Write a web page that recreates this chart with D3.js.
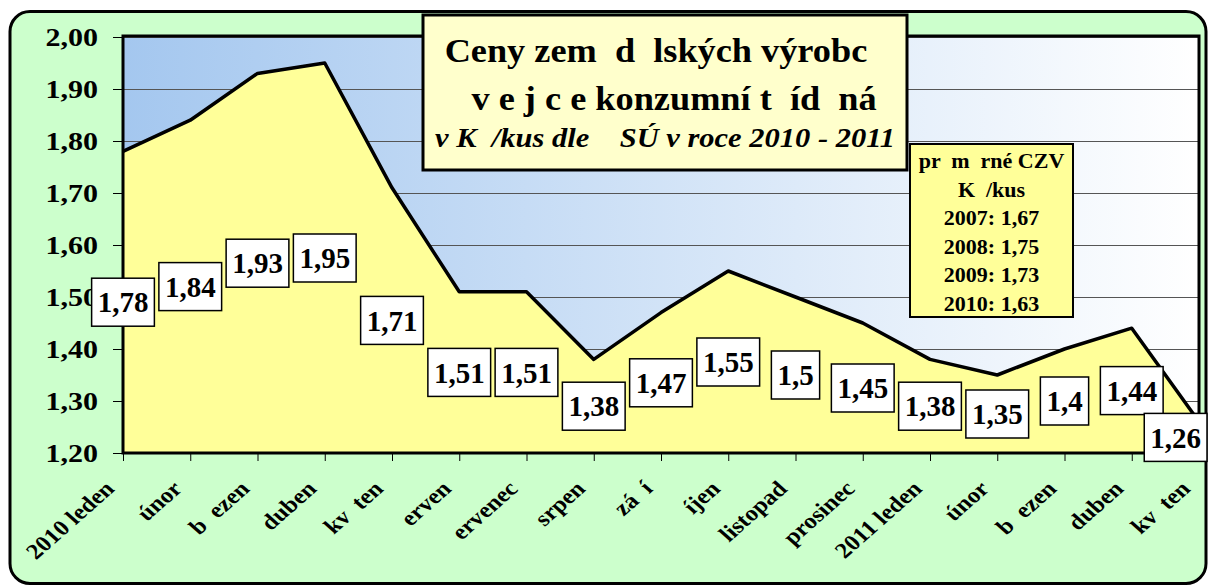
<!DOCTYPE html>
<html>
<head>
<meta charset="utf-8">
<script src="https://cdn.jsdelivr.net/npm/d3@7"></script>
<style>
  body { margin: 0; background: #fff; }
  #wrap { position: relative; width: 1208px; height: 588px; overflow: hidden; }
  #wrap svg { position: absolute; left: 0; top: 0; }
  .xlab { position: absolute; font-family: "Liberation Serif", "Times New Roman", serif; font-weight: bold;
          font-size: 22px; line-height: 22px; white-space: pre; color: #000;
          transform-origin: 100% 18px; transform: scaleX(1.13) rotate(-45deg); }
</style>
</head>
<body>
<div id="wrap">
<svg id="chart" width="1208" height="588" font-family="Liberation Serif, Times New Roman, DejaVu Serif, serif" font-weight="bold"></svg>
</div>
<script>
// months as they appear in the picture (glyphs the source font lacked are blank)
const months = ["2010 leden", "únor", "b  ezen", "duben", "kv  ten", "erven", "ervenec", "srpen",
  "zá  í", "íjen", "listopad", "prosinec", "2011 leden", "únor", "b  ezen", "duben", "kv  ten"];
const prices = [1.78, 1.84, 1.93, 1.95, 1.71, 1.51, 1.51, 1.38, 1.47, 1.55, 1.5, 1.45, 1.38, 1.35, 1.4, 1.44, 1.26];

const yTicks = [1.2, 1.3, 1.4, 1.5, 1.6, 1.7, 1.8, 1.9, 2.0];
const yTickLabels = ["1,20", "1,30", "1,40", "1,50", "1,60", "1,70", "1,80", "1,90", "2,00"];

const titleLines = ["Ceny zem  d  lských výrobc  ", "  v e j c e konzumní t  íd  ná", "v K  /kus dle    SÚ v roce 2010 - 2011"];
const avgHeader = ["pr  m  rné CZV", "K  /kus"];
const avgYears = [2007, 2008, 2009, 2010];
const avgValues = [1.67, 1.75, 1.73, 1.63];

const FONT = "Liberation Serif, Times New Roman, DejaVu Serif, serif";
const comma = v => String(v).replace(".", ",");

const svg = d3.select("#chart");
const plot = { left: 123, right: 1199, top: 36, bottom: 453 };

const x = d3.scalePoint()
  .domain(d3.range(months.length))
  .range([plot.left, plot.right]);

const y = d3.scaleLinear()
  .domain([1.2, 2.0])
  .range([plot.bottom, plot.top + 1]);

// text stretched horizontally by sx
function stretched(parent, tx, ty, sx) {
  return parent.append("g")
    .attr("transform", `translate(${tx},${ty}) scale(${sx},1)`)
    .append("text")
    .attr("font-family", FONT)
    .attr("font-weight", "bold")
    .attr("xml:space", "preserve")
    .style("white-space", "pre");
}

// background panel
svg.append("rect")
  .attr("x", 10).attr("y", 11.5)
  .attr("width", 1196).attr("height", 572)
  .attr("rx", 20)
  .attr("fill", "#ccffcc")
  .attr("stroke", "#000")
  .attr("stroke-width", 3);

const defs = svg.append("defs");
const grad = defs.append("linearGradient").attr("id", "bg").attr("x1", 0).attr("x2", 1).attr("y1", 0).attr("y2", 0);
grad.append("stop").attr("offset", 0).attr("stop-color", "#a4c7ef");
grad.append("stop").attr("offset", 1).attr("stop-color", "#ffffff");

svg.append("rect")
  .attr("x", plot.left).attr("y", plot.top)
  .attr("width", plot.right - plot.left).attr("height", plot.bottom - plot.top)
  .attr("fill", "url(#bg)");

// gridlines
svg.append("g")
  .selectAll("line")
  .data(yTicks.slice(1))
  .enter()
  .append("line")
  .attr("x1", plot.left).attr("x2", plot.right)
  .attr("y1", d => Math.round(y(d)) + 0.5).attr("y2", d => Math.round(y(d)) + 0.5)
  .attr("stroke", "#555")
  .attr("stroke-width", 1);

// area + outline
const area = d3.area()
  .x((d, i) => x(i))
  .y0(y(1.2))
  .y1(d => y(d));

const line = d3.line()
  .x((d, i) => x(i))
  .y(d => y(d));

svg.append("path")
  .datum(prices)
  .attr("d", area)
  .attr("fill", "#ffff99");

svg.append("path")
  .datum(prices)
  .attr("d", line)
  .attr("fill", "none")
  .attr("stroke", "#000")
  .attr("stroke-width", 3.5)
  .attr("stroke-linejoin", "round");

// plot frame
svg.append("rect")
  .attr("x", plot.left).attr("y", plot.top)
  .attr("width", plot.right - plot.left).attr("height", plot.bottom - plot.top)
  .attr("fill", "none")
  .attr("stroke", "#000")
  .attr("stroke-width", 3);

// y axis (ticks from d3, labels stretched like the original)
const yAxis = svg.append("g")
  .attr("transform", `translate(${plot.left},0)`)
  .call(d3.axisLeft(y)
    .tickValues(yTicks)
    .tickFormat("")
    .tickSize(10));
yAxis.select(".domain").remove();
yAxis.selectAll("line").attr("stroke", "#000");

yTicks.forEach((v, i) => {
  stretched(svg, plot.left - 25, y(v), 1.2)
    .attr("text-anchor", "end")
    .attr("dy", "0.34em")
    .attr("font-size", 25)
    .text(yTickLabels[i]);
});

// x axis
const xAxis = svg.append("g")
  .attr("transform", `translate(0,${plot.bottom})`)
  .call(d3.axisBottom(x)
    .tickFormat("")
    .tickSize(8));
xAxis.select(".domain").remove();
xAxis.selectAll("line").attr("stroke", "#000");

// rotated month labels as html overlay, right end/baseline at (x - 7, bottom + 37)
d3.select("#wrap")
  .selectAll("div.xlab")
  .data(months)
  .enter()
  .append("div")
  .attr("class", "xlab")
  .style("right", (d, i) => `${1208 - (x(i) - 7)}px`)
  .style("top", `${plot.bottom + 37 - 18}px`)
  .text(d => d);

// title box
const tb = { x: 423, y: 15, w: 484, h: 155 };
svg.append("rect")
  .attr("x", tb.x).attr("y", tb.y).attr("width", tb.w).attr("height", tb.h)
  .attr("fill", "#ffffcc")
  .attr("stroke", "#000")
  .attr("stroke-width", 3);

const titleStyle = [
  { y: 62, size: 33, sx: 1.1, italic: false },
  { y: 110, size: 33, sx: 1.1, italic: false },
  { y: 147, size: 27, sx: 1.13, italic: true }
];
titleLines.forEach((t, i) => {
  stretched(svg, tb.x + tb.w / 2, titleStyle[i].y, titleStyle[i].sx)
    .attr("text-anchor", "middle")
    .attr("font-size", titleStyle[i].size)
    .attr("font-style", titleStyle[i].italic ? "italic" : "normal")
    .text(t);
});

// averages box
const ab = { x: 910, y: 144, w: 163, h: 173 };
svg.append("rect")
  .attr("x", ab.x).attr("y", ab.y).attr("width", ab.w).attr("height", ab.h)
  .attr("fill", "#ffff99")
  .attr("stroke", "#000")
  .attr("stroke-width", 2);

const avgLines = avgHeader.concat(avgYears.map((yr, i) => `${yr}: ${comma(avgValues[i])}`));
avgLines.forEach((t, i) => {
  stretched(svg, ab.x + ab.w / 2, 168 + i * 28.5, 1.1)
    .attr("text-anchor", "middle")
    .attr("font-size", 20)
    .text(t);
});

// data labels, centred in the middle of the filled area
const labels = svg.append("g")
  .selectAll("g")
  .data(prices)
  .enter()
  .append("g");

labels.append("text")
  .attr("text-anchor", "middle")
  .attr("dy", "0.35em")
  .attr("font-family", FONT)
  .attr("font-weight", "bold")
  .attr("font-size", 29)
  .text(d => comma(d));

labels.each(function (d, i) {
  const g = d3.select(this);
  const bb = g.select("text").node().getBBox();
  const w = bb.width + 12;
  const cx = Math.min(x(i), 1208 - w / 2 - 1);
  const cy = (y(d) + y(1.2)) / 2;
  g.attr("transform", `translate(${cx},${cy})`);
  g.insert("rect", "text")
    .attr("x", -w / 2).attr("y", -24)
    .attr("width", w).attr("height", 48)
    .attr("fill", "#fff")
    .attr("stroke", "#000")
    .attr("stroke-width", 1.5);
});
</script>
</body>
</html>
